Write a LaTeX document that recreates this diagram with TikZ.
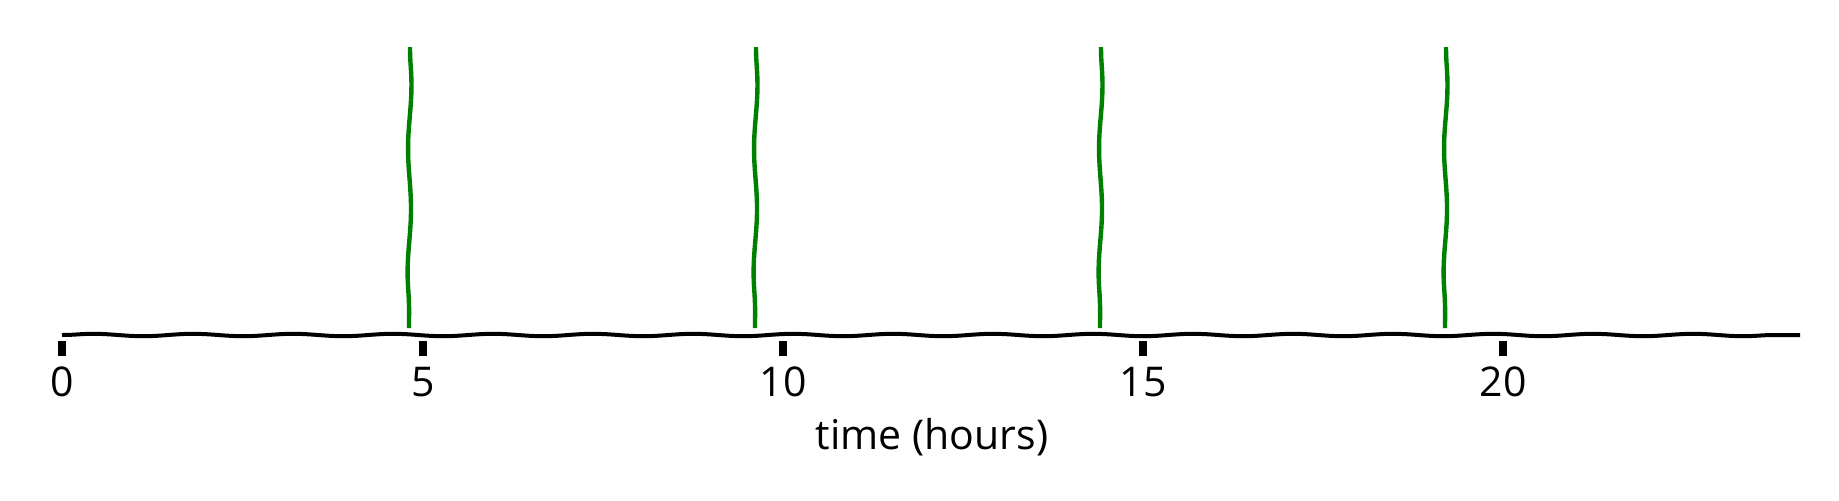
\documentclass[tikz,border=0pt]{standalone}
\usepackage{fontspec}
\setmainfont{Open Sans}
\usepackage{xcolor}
\usepackage{tikz}
\usetikzlibrary{decorations.pathmorphing}

\definecolor{markgreen}{HTML}{008000}

\begin{document}
\begin{tikzpicture}[
  x=0.5pt, y=-0.5pt,
  font=\fontsize{20.5}{24}\selectfont,
  axisline/.style={draw=black, line width=2pt, decorate,
    decoration={snake, segment length=50pt, amplitude=0.6pt}},
  marker/.style={draw=markgreen, line width=2.2pt, decorate,
    decoration={snake, segment length=62pt, amplitude=0.8pt}},
  tickmark/.style={draw=black, line width=4pt},
  ticklabel/.style={inner sep=0pt, anchor=center}
]
  \useasboundingbox (0,0) rectangle (1839,500);

  \coordinate (axisstart) at (62,335);
  \coordinate (axisend) at (1800,335);
  \draw[axisline] (axisstart) -- (axisend);

  \foreach \h/\px in {0/62, 5/423, 10/783, 15/1143, 20/1503} {
    \coordinate (tick\h top) at (\px,341);
    \coordinate (tick\h bottom) at (\px,356);
    \draw[tickmark] (tick\h top) -- (tick\h bottom);
    \node[ticklabel] (label\h) at (\px,382) {\h};
  }

  \node (xlabel) at (932,437) {time (hours)};

  \foreach \i/\top/\bot in {1/410/409, 2/756/755, 3/1101/1100, 4/1446/1445} {
    \coordinate (mark\i top) at (\top,47);
    \coordinate (mark\i bottom) at (\bot,328);
    \draw[marker] (mark\i top) -- (mark\i bottom);
  }
\end{tikzpicture}
\end{document}
